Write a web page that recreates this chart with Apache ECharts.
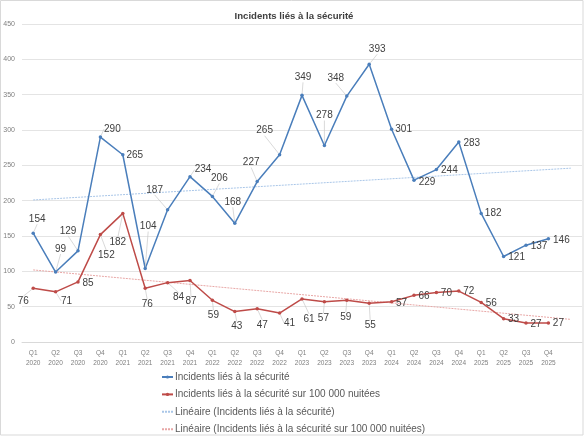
<!DOCTYPE html>
<html style="height: 100%">
<head>
  <meta charset="utf-8">
  <title>Incidents liés à la sécurité</title>
  <style type="text/css">
    body { margin: 0; background: #fff; }
    #container { width: 588px; height: 436px; }
  </style>
</head>
<body>
  <div id="container"></div>
  <script type="text/javascript" src="https://cdn.jsdelivr.net/npm/echarts@6/dist/echarts.min.js"></script>
  <script type="text/javascript">
    // tick labels (last slot is the one-period forecast of the trend lines)
    var quarters = ['Q1\n2020', 'Q2\n2020', 'Q3\n2020', 'Q4\n2020',
                    'Q1\n2021', 'Q2\n2021', 'Q3\n2021', 'Q4\n2021',
                    'Q1\n2022', 'Q2\n2022', 'Q3\n2022', 'Q4\n2022',
                    'Q1\n2023', 'Q2\n2023', 'Q3\n2023', 'Q4\n2023',
                    'Q1\n2024', 'Q2\n2024', 'Q3\n2024', 'Q4\n2024',
                    'Q1\n2025', 'Q2\n2025', 'Q3\n2025', 'Q4\n2025', ''];

    var incidents = [154, 99, 129, 290, 265, 104, 187, 234, 206, 168, 227, 265,
                     349, 278, 348, 393, 301, 229, 244, 283, 182, 121, 137, 146];

    var incidentsPer100k = [76, 71, 85, 152, 182, 76, 84, 87, 59, 43, 47, 41,
                            61, 57, 59, 55, 57, 66, 70, 72, 56, 33, 27, 27];

    // trend line end points: [category index, value]
    var trendIncidents = [[0, 201], [24, 246]];
    var trendPer100k = [[0, 102], [24, 32]];

    var names = ['Incidents liés à la sécurité',
                 'Incidents liés à la sécurité sur 100 000 nuitées',
                 'Linéaire (Incidents liés à la sécurité)',
                 'Linéaire (Incidents liés à la sécurité sur 100 000 nuitées)'];

    // label placement (px offset of label centre from the point)
    var blueLabelPos = [[4, -14], [5, -23], [-10, -20], [12, -8], [12, 1], [3, -42],
                        [-13, -20], [13, -7], [7, -18], [-2, -21], [-6, -19], [-15, -24],
                        [1, -18], [0, -30], [-11, -18], [8, -15], [12, 0], [13, 2],
                        [13, 1], [13, 1], [12, 0], [13, 1], [13, 1], [13, 1]];
    var redLabelPos = [[-10, 13], [11, 9], [10, 1], [6, 21], [-5, 29], [2, 16],
                       [11, 15], [1, 21], [1, 15], [2, 15], [5, 16], [10, 10],
                       [7, 20], [-1, 17], [-1, 17], [1, 22], [10, 2], [10, 1],
                       [10, 1], [10, 0], [10, 1], [10, 1], [10, 1], [10, 0]];

    var BLUE = '#4a7ebb';
    var RED = '#be4b48';
    var FONT = 'Liberation Sans';

    function pointsWithLabels(values, pos) {
      return values.map(function (v, i) {
        var far = Math.sqrt(pos[i][0] * pos[i][0] + pos[i][1] * pos[i][1]) > 14;
        return { value: v, labelLine: { show: far } };
      });
    }

    function layoutFrom(pos) {
      return function (params) {
        var p = pos[params.dataIndex];
        return { dx: p[0], dy: p[1] };
      };
    }

    var chart = echarts.init(document.getElementById('container'));

    chart.setOption({
      animation: false,
      textStyle: { fontFamily: FONT },
      title: {
        text: 'Incidents liés à la sécurité',
        left: 'center',
        top: 6,
        textStyle: { fontFamily: FONT, fontSize: 9.6, fontWeight: 'bold', color: '#404040' }
      },
      graphic: [{
        type: 'rect',
        shape: { x: 0.5, y: 0.5, width: 582.5, height: 434.5 },
        style: { fill: 'none', stroke: '#d9d9d9', lineWidth: 1 },
        silent: true
      }],
      legend: {
        orient: 'vertical',
        left: 161,
        top: 372,
        height: 70,
        padding: 0,
        itemWidth: 11,
        itemHeight: 4,
        itemGap: 7.4,
        textStyle: { fontFamily: FONT, fontSize: 10, color: '#595959', padding: [0, 0, 0, -3] },
        data: [
          { name: names[0] },
          { name: names[1] },
          { name: names[2], itemStyle: { color: 'transparent', opacity: 0 } },
          { name: names[3], itemStyle: { color: 'transparent', opacity: 0 } }
        ]
      },
      grid: { left: 22, right: 6, top: 24, bottom: 94, containLabel: false },
      xAxis: {
        type: 'category',
        data: quarters,
        axisLine: { lineStyle: { color: '#d9d9d9' } },
        axisTick: { show: false },
        axisLabel: {
          interval: 0,
          fontSize: 6.5,
          lineHeight: 10,
          color: '#7f7f7f',
          margin: 6
        }
      },
      yAxis: {
        type: 'value',
        min: 0,
        max: 450,
        interval: 50,
        axisLine: { show: false },
        axisTick: { show: false },
        axisLabel: { fontSize: 7, color: '#7f7f7f', margin: 7 },
        splitLine: { lineStyle: { color: '#e4e4e4', width: 1 } }
      },
      series: [
        {
          name: names[0],
          type: 'line',
          data: pointsWithLabels(incidents, blueLabelPos),
          symbol: 'circle',
          symbolSize: 3.5,
          z: 4,
          itemStyle: { color: BLUE },
          lineStyle: { color: BLUE, width: 1.5 },
          label: { show: true, position: 'inside', fontSize: 10, color: '#404040' },
          labelLayout: layoutFrom(blueLabelPos),
          labelLine: { lineStyle: { color: '#c8c8c8', width: 0.7 } }
        },
        {
          name: names[1],
          type: 'line',
          data: pointsWithLabels(incidentsPer100k, redLabelPos),
          symbol: 'circle',
          symbolSize: 3.5,
          z: 4,
          itemStyle: { color: RED },
          lineStyle: { color: RED, width: 1.5 },
          label: { show: true, position: 'inside', fontSize: 10, color: '#404040' },
          labelLayout: layoutFrom(redLabelPos),
          labelLine: { lineStyle: { color: '#c8c8c8', width: 0.7 } }
        },
        {
          name: names[2],
          type: 'line',
          data: trendIncidents,
          symbol: 'none',
          z: 3,
          itemStyle: { color: '#a9c6e8' },
          lineStyle: { color: '#a9c6e8', width: 1, type: [2, 1] }
        },
        {
          name: names[3],
          type: 'line',
          data: trendPer100k,
          symbol: 'none',
          z: 3,
          itemStyle: { color: '#e8a7a6' },
          lineStyle: { color: '#e8a7a6', width: 1, type: [2, 1] }
        }
      ]
    });
  </script>
</body>
</html>
